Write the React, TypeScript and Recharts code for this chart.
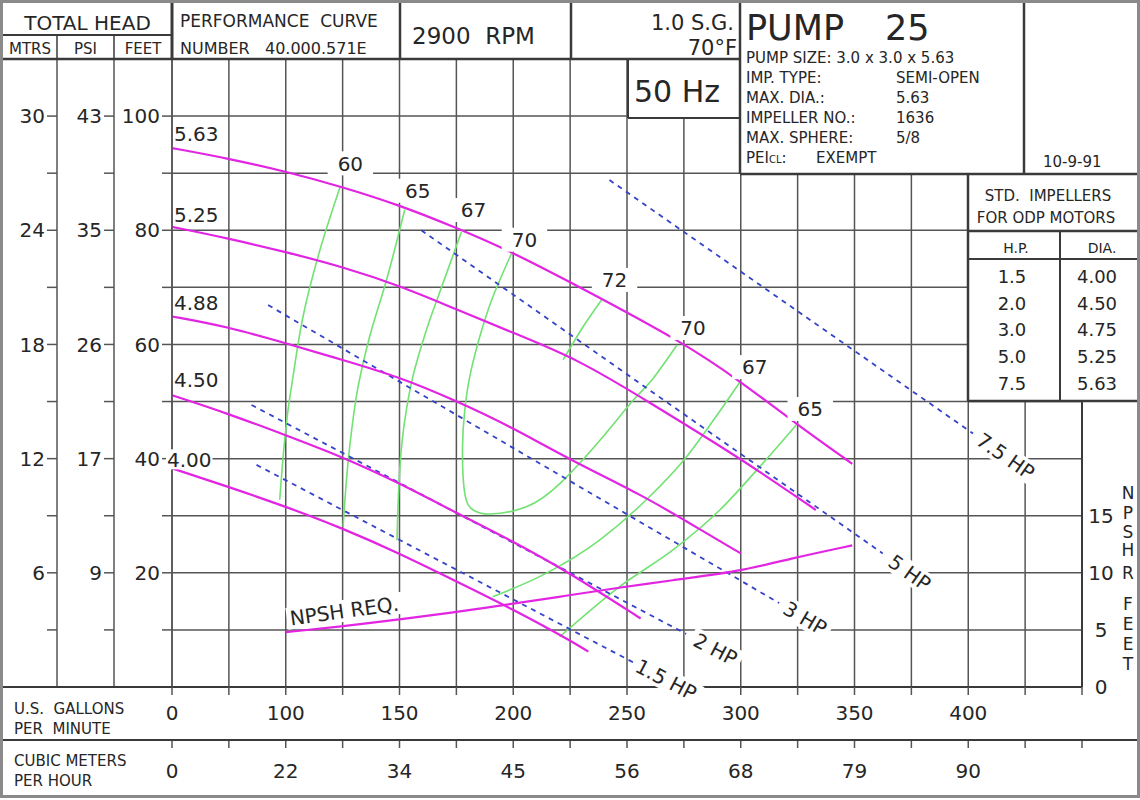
import React from 'react';
import { CartesianGrid, ComposedChart, Line, XAxis, YAxis } from 'recharts';

type Pt = [number, number];

// The sheet squeezes 0-100 GPM into one grid step; every other step is 25 GPM.
const gpmToAxis = (gpm: number) => (gpm < 100 ? 50 + gpm / 2 : gpm);

const GPM_GRID = [50, 75, 100, 125, 150, 175, 200, 225, 250, 275, 300, 325, 350, 375, 400, 425, 450];
const GPM_TICK_AT = [50, 100, 150, 200, 250, 300, 350, 400];
const GPM_TICK_TEXT = ['0', '100', '150', '200', '250', '300', '350', '400'];
const CMH_TICK_TEXT = ['0', '22', '34', '45', '56', '68', '79', '90'];

const HEAD_GRID = [0, 10, 20, 30, 40, 50, 60, 70, 80, 90, 100, 110];
const FEET_TICKS = [20, 40, 60, 80, 100];
const FEET_TICK_TEXT = ['20', '40', '60', '80', '100'];
const PSI_TICK_TEXT = ['9', '17', '26', '35', '43'];
const MTRS_TICK_TEXT = ['6', '12', '18', '24', '30'];
const NPSH_TICKS = [0, 5, 10, 15];

// head (ft) vs flow (GPM) per impeller diameter
const IMP_563: Pt[] = [[0, 94.4], [49, 92.6], [100, 90.3], [124, 87.7], [150, 84.4], [174, 80.6], [199, 76.3], [229, 70.1], [275, 60.3], [300, 53.5], [324, 46.2], [349, 39.1]];
const IMP_525: Pt[] = [[0, 80.6], [49, 78.6], [100, 76.2], [125, 73.6], [150, 70.3], [174, 66.3], [199, 62.2], [229, 57.3], [258, 50.3], [299, 40.3], [333, 31.0]];
const IMP_488: Pt[] = [[0, 64.9], [49, 63.1], [100, 60.2], [125, 57.3], [150, 54.3], [174, 50.3], [199, 45.6], [224, 40.0], [258, 33.3], [274, 29.5], [300, 23.4]];
const IMP_450: Pt[] = [[0, 51.1], [49, 47.9], [100, 44.1], [125, 40.3], [150, 35.7], [174, 30.7], [199, 25.7], [224, 20.2], [256, 12.0]];
const IMP_400: Pt[] = [[0, 38.3], [49, 35.1], [100, 31.6], [125, 27.8], [150, 23.4], [174, 18.7], [199, 13.8], [224, 8.4], [233, 6.2]];

// iso-efficiency lines, listed from the top end down
const EFF_60: Pt[] = [[124, 87.7], [115, 76.5], [107.6, 64.9], [103.2, 54.4], [101, 48.5], [99.1, 43.3], [94.7, 32.8]];
const EFF_65L: Pt[] = [[152.3, 83.6], [144.3, 71.3], [136.9, 61.4], [131.8, 52.6], [128.1, 42.1], [125.2, 28.1]];
const EFF_67L: Pt[] = [[177.2, 79.7], [169.1, 70.7], [161.8, 62.5], [155.9, 54.4], [153.0, 48.5], [150.9, 42.1], [148.9, 25.7]];
const EFF_70: Pt[] = [[199.2, 75.9], [191.1, 68.4], [185.3, 61.4], [180.9, 54.4], [178.7, 48.5], [177.7, 42.1], [178.7, 33.9], [182.4, 31.0], [189.9, 30.3], [206.0, 31.6], [220.7, 35.7], [238.3, 43.3], [252.9, 50.3], [261.0, 53.8], [272.0, 59.9]];
const EFF_72: Pt[] = [[238.8, 67.8], [230.7, 63.1], [221.9, 57.3]];
const EFF_67R: Pt[] = [[299.6, 53.4], [288.1, 46.8], [276.1, 40.3], [258.5, 32.8], [237.8, 25.7], [214.4, 19.9], [190.9, 15.8]];
const EFF_65R: Pt[] = [[324.4, 45.9], [308.4, 38.6], [290.8, 31.0], [270.2, 24.0], [246.8, 17.6], [220.4, 8.8]];

// motor horsepower lines
const HP_75: Pt[] = [[242.3, 88.8], [402.1, 44.4]];
const HP_5: Pt[] = [[159.6, 80.0], [362.4, 23.4]];
const HP_3: Pt[] = [[84.5, 66.9], [316.9, 14.7]];
const HP_2: Pt[] = [[69.9, 49.4], [276.0, 9.3]];
const HP_15: Pt[] = [[74.3, 38.9], [253.3, 4.2]];

// NPSH required (ft, right axis)
const NPSH_REQ: Pt[] = [[100, 4.8], [124, 5.3], [150, 5.9], [191, 7.0], [220, 7.9], [250, 8.8], [268, 9.3], [299, 10.1], [323, 11.3], [349, 12.4]];

const PUMP_INFO = [
  ['IMP. TYPE:', 'SEMI-OPEN'],
  ['MAX. DIA.:', '5.63'],
  ['IMPELLER NO.:', '1636'],
  ['MAX. SPHERE:', '5/8'],
];
const STD_HP = ['1.5', '2.0', '3.0', '5.0', '7.5'];
const STD_DIA = ['4.00', '4.50', '4.75', '5.25', '5.63'];

const FONT = '"DejaVu Sans", Verdana, sans-serif';
const INK = '#262626';
const GRID = '#555';
const FRAME = '#3a3a3a';
const MAGENTA = '#e225e2';
const GREEN = '#72e272';
const BLUE = '#3443c8';

const toRows = (pts: Pt[]) => pts.map(([g, v]) => ({ x: gpmToAxis(g), y: v }));

type LabelSpec = {
  text: string;
  at: 'start' | 'end';
  dx: number;
  dy: number;
  angle?: number;
  anchor?: 'start' | 'middle';
  padX?: number;
  padY?: number;
  size?: number;
};

const charW = (c: string) => ('.,: '.includes(c) ? 0.32 : /[0-9]/.test(c) ? 0.636 : /[A-Z]/.test(c) ? 0.7 : 0.6);
const textWidth = (t: string, size: number) => t.split('').reduce((s, c) => s + charW(c), 0) * size;

function BoxedText({ x, y, spec }: { x: number; y: number; spec: LabelSpec }) {
  const size = spec.size ?? 20;
  const anchor = spec.anchor ?? 'middle';
  const w = textWidth(spec.text, size);
  const left = anchor === 'middle' ? -w / 2 : 0;
  const padX = spec.padX ?? 3;
  const padY = spec.padY ?? 1;
  return (
    <g transform={`translate(${x},${y}) rotate(${spec.angle ?? 0}) translate(${spec.dx},${spec.dy})`}>
      <rect x={left - padX} y={-size * 0.5 - padY} width={w + 2 * padX} height={size + 2 * padY} fill="#fff" />
      <text x={0} y={0} dy="0.36em" textAnchor={anchor} fontSize={size} fill={INK} style={{ whiteSpace: 'pre' }}>
        {spec.text}
      </text>
    </g>
  );
}

const labelDots = (specs: LabelSpec[], count: number) => (p: any) => {
  const spec = specs.find((s) => (s.at === 'start' ? 0 : count - 1) === p.index);
  if (!spec) return <g key={`d${p.index}`} />;
  return <BoxedText key={`d${p.index}`} x={p.cx} y={p.cy} spec={spec} />;
};

type Series = { key: string; pts: Pt[]; curve: any; labels: LabelSpec[] };

const effLabel = (text: string, at: 'start' | 'end', dx: number, dy: number): LabelSpec => ({
  text,
  at,
  dx,
  dy,
  padX: 10,
  padY: 2,
});

const EFF_SERIES: Series[] = [
  { key: 'e60', pts: EFF_60, curve: 'monotoneY', labels: [effLabel('60', 'start', 10, -23)] },
  { key: 'e65l', pts: EFF_65L, curve: 'monotoneY', labels: [effLabel('65', 'start', 13, -19)] },
  { key: 'e67l', pts: EFF_67L, curve: 'monotoneY', labels: [effLabel('67', 'start', 12, -22)] },
  { key: 'e70', pts: EFF_70, curve: 'natural', labels: [effLabel('70', 'start', 13, -14), effLabel('70', 'end', 16, -17)] },
  { key: 'e72', pts: EFF_72, curve: 'monotone', labels: [effLabel('72', 'start', 13, -20)] },
  { key: 'e67r', pts: EFF_67R, curve: 'monotone', labels: [effLabel('67', 'start', 15, -15)] },
  { key: 'e65r', pts: EFF_65R, curve: 'monotone', labels: [effLabel('65', 'start', 14, -16)] },
];

const hpLabel = (text: string, angle: number, gap: number): LabelSpec => ({
  text,
  at: 'end',
  dx: gap,
  dy: 0,
  angle,
  anchor: 'start',
  padX: 4,
});

const HP_SERIES: Series[] = [
  { key: 'hp75', pts: HP_75, curve: 'linear', labels: [hpLabel('7.5 HP', 34.9, 7)] },
  { key: 'hp5', pts: HP_5, curve: 'linear', labels: [hpLabel('5 HP', 35.6, 10)] },
  { key: 'hp3', pts: HP_3, curve: 'linear', labels: [hpLabel('3 HP', 30.3, 7)] },
  { key: 'hp2', pts: HP_2, curve: 'linear', labels: [hpLabel('2 HP', 27.7, 10)] },
  { key: 'hp15', pts: HP_15, curve: 'linear', labels: [hpLabel('1.5 HP', 27.6, 3)] },
];

const headLabel = (text: string, dx: number, dy: number): LabelSpec => ({
  text,
  at: 'start',
  dx,
  dy,
  anchor: 'start',
  padX: 1,
  padY: 0,
});

const HEAD_SERIES: Series[] = [
  { key: 'i563', pts: IMP_563, curve: 'basis', labels: [headLabel('5.63', 2, -14.5)] },
  { key: 'i525', pts: IMP_525, curve: 'basis', labels: [headLabel('5.25', 2, -12.2)] },
  { key: 'i488', pts: IMP_488, curve: 'basis', labels: [headLabel('4.88', 2, -13.9)] },
  { key: 'i450', pts: IMP_450, curve: 'basis', labels: [headLabel('4.50', 2, -15.5)] },
  { key: 'i400', pts: IMP_400, curve: 'basis', labels: [headLabel('4.00', -5, -9)] },
];

const NPSH_LABEL: LabelSpec[] = [{ text: 'NPSH REQ.', at: 'start', dx: 6, dy: -13, angle: -8, anchor: 'start', padX: 3, padY: 1 }];

const gpmTick = (texts: string[]) => (p: any) => {
  const i = GPM_TICK_AT.indexOf(p.payload.value);
  if (i < 0) return <g />;
  return (
    <text x={p.x} y={p.y} dy="0.71em" textAnchor="middle" fontSize={20} fill={INK}>
      {texts[i]}
    </text>
  );
};

const headTick = (texts: string[]) => (p: any) => {
  const i = FEET_TICKS.indexOf(p.payload.value);
  if (i < 0) return <g />;
  return (
    <text x={p.x} y={p.y} dy="0.36em" textAnchor="end" fontSize={20} fill={INK}>
      {texts[i]}
    </text>
  );
};

const npshTick = (p: any) => (
  <text x={p.x + 19} y={p.y} dy="0.36em" textAnchor="middle" fontSize={20} fill={INK}>
    {p.payload.value}
  </text>
);

const axisLine = { stroke: GRID, strokeWidth: 1.5 };

function Overlay() {
  const line = (x1: number, y1: number, x2: number, y2: number, w = 2.5) => (
    <line x1={x1} y1={y1} x2={x2} y2={y2} stroke={FRAME} strokeWidth={w} />
  );
  return (
    <svg
      width={1140}
      height={800}
      style={{ position: 'absolute', left: 0, top: 0, pointerEvents: 'none' }}
      fontFamily={FONT}
      fill={INK}
    >
      {/* header cells */}
      <rect x={3} y={3} width={737} height={56} fill="#fff" />
      <rect x={628} y={59} width={112} height={59} fill="#fff" />
      <rect x={740} y={3} width={398} height={171} fill="#fff" />
      <rect x={968} y={174} width={170} height={227} fill="#fff" />
      {line(3, 35, 172, 35, 2)}
      {line(57, 35, 57, 59, 1.5)}
      {line(114, 35, 114, 59, 1.5)}
      {line(172, 3, 172, 59, 3)}
      {line(400, 3, 400, 59)}
      {line(571, 3, 571, 59)}
      {line(3, 59, 740, 59)}
      {line(628, 59, 628, 118, 2)}
      {line(628, 118, 740, 118, 2)}
      {line(740, 3, 740, 174)}
      {line(1024, 3, 1024, 174)}
      {line(740, 174, 1138, 174)}
      {line(968, 174, 968, 401)}
      {line(968, 231, 1138, 231)}
      {line(968, 259, 1138, 259, 2)}
      {line(1060, 231, 1060, 401, 2)}
      {line(968, 401, 1138, 401)}
      {/* bottom rows */}
      {line(3, 687, 172, 687, 2)}
      {line(3, 740, 1138, 740, 2)}
      <rect x={1.5} y={1.5} width={1137} height={795} fill="none" stroke="#8a8a8a" strokeWidth={3} />

      <text x={87.5} y={30} textAnchor="middle" fontSize={20}>TOTAL HEAD</text>
      <text x={30} y={54} textAnchor="middle" fontSize={15}>MTRS</text>
      <text x={85.5} y={54} textAnchor="middle" fontSize={15}>PSI</text>
      <text x={143} y={54} textAnchor="middle" fontSize={15}>FEET</text>
      <text x={180} y={27} fontSize={17} style={{ whiteSpace: 'pre' }}>PERFORMANCE  CURVE</text>
      <text x={180} y={54} fontSize={16} style={{ whiteSpace: 'pre' }}>NUMBER   40.000.571E</text>
      <text x={412} y={44} fontSize={23} style={{ whiteSpace: 'pre' }}>2900  RPM</text>
      <text x={734} y={30} textAnchor="end" fontSize={21}>1.0 S.G.</text>
      <text x={737} y={55} textAnchor="end" fontSize={21}>70°F</text>
      <text x={634} y={102} fontSize={30}>50 Hz</text>

      <text x={746} y={40} fontSize={35}>PUMP</text>
      <text x={885} y={40} fontSize={35}>25</text>
      <text x={746} y={63} fontSize={15}>PUMP SIZE: 3.0 x 3.0 x 5.63</text>
      {PUMP_INFO.map(([k, v], i) => (
        <g key={k}>
          <text x={746} y={83 + i * 20} fontSize={15}>{k}</text>
          <text x={896} y={83 + i * 20} fontSize={15}>{v}</text>
        </g>
      ))}
      <text x={746} y={163} fontSize={15}>
        PEI<tspan fontSize={10}>CL</tspan>:
      </text>
      <text x={816} y={163} fontSize={15}>EXEMPT</text>
      <text x={1043} y={167} fontSize={15}>10-9-91</text>

      <text x={1048} y={201} textAnchor="middle" fontSize={15} style={{ whiteSpace: 'pre' }}>STD.  IMPELLERS</text>
      <text x={1046} y={223} textAnchor="middle" fontSize={15}>FOR ODP MOTORS</text>
      <text x={1016} y={253} textAnchor="middle" fontSize={14}>H.P.</text>
      <text x={1102} y={253} textAnchor="middle" fontSize={14}>DIA.</text>
      {STD_HP.map((hp, i) => (
        <g key={hp}>
          <text x={1012} y={283 + i * 26.7} textAnchor="middle" fontSize={18}>{hp}</text>
          <text x={1097} y={283 + i * 26.7} textAnchor="middle" fontSize={18}>{STD_DIA[i]}</text>
        </g>
      ))}

      <text x={14} y={714} fontSize={15} style={{ whiteSpace: 'pre' }}>U.S.  GALLONS</text>
      <text x={14} y={734} fontSize={15} style={{ whiteSpace: 'pre' }}>PER  MINUTE</text>
      <text x={14} y={766} fontSize={15}>CUBIC METERS</text>
      <text x={14} y={786} fontSize={15}>PER HOUR</text>

      {'NPSHR'.split('').map((c, i) => (
        <text key={`n${i}`} x={1128} y={[499, 519, 538, 556, 579][i]} textAnchor="middle" fontSize={17}>{c}</text>
      ))}
      {'FEET'.split('').map((c, i) => (
        <text key={`f${i}`} x={1128} y={610 + i * 20} textAnchor="middle" fontSize={17}>{c}</text>
      ))}
    </svg>
  );
}

function renderSeries(list: Series[], color: string, width: number, dash?: string) {
  return list.map((s) => (
    <Line
      key={s.key}
      data={toRows(s.pts)}
      dataKey="y"
      xAxisId="x1gpm"
      yAxisId="y1feet"
      type={s.curve}
      stroke={color}
      strokeWidth={width}
      strokeDasharray={dash}
      dot={labelDots(s.labels, s.pts.length)}
      activeDot={false}
      isAnimationActive={false}
    />
  ));
}

export default function App() {
  return (
    <div style={{ position: 'relative', width: 1140, height: 800, background: '#fff', fontFamily: FONT }}>
      <style>{'body{margin:0}'}</style>
      <ComposedChart width={1140} height={800} margin={{ top: 59, right: 0, bottom: 5, left: 3 }}>
        <CartesianGrid xAxisId="x1gpm" yAxisId="y1feet" stroke={GRID} strokeWidth={1.5} />
        <XAxis
          xAxisId="x1gpm"
          type="number"
          dataKey="x"
          domain={[50, 450]}
          ticks={GPM_GRID}
          interval={0}
          height={53}
          tickSize={8}
          tickMargin={11}
          axisLine={{ stroke: FRAME, strokeWidth: 2 }}
          tickLine={axisLine}
          tick={gpmTick(GPM_TICK_TEXT)}
        />
        <XAxis
          xAxisId="x2cmh"
          type="number"
          dataKey="x"
          domain={[50, 450]}
          allowDataOverflow
          ticks={GPM_GRID}
          interval={0}
          height={55}
          tickSize={8}
          tickMargin={16}
          axisLine={{ stroke: FRAME, strokeWidth: 2 }}
          tickLine={axisLine}
          tick={gpmTick(CMH_TICK_TEXT)}
        />
        <YAxis
          yAxisId="y1feet"
          type="number"
          domain={[0, 110]}
          ticks={HEAD_GRID}
          interval={0}
          width={58}
          tickSize={10}
          tickMargin={2}
          axisLine={axisLine}
          tickLine={axisLine}
          tick={headTick(FEET_TICK_TEXT)}
        />
        <YAxis
          yAxisId="y2psi"
          type="number"
          domain={[0, 110]}
          allowDataOverflow
          ticks={HEAD_GRID}
          interval={0}
          width={57}
          tickSize={10}
          tickMargin={2}
          axisLine={axisLine}
          tickLine={axisLine}
          tick={headTick(PSI_TICK_TEXT)}
        />
        <YAxis
          yAxisId="y3mtrs"
          type="number"
          domain={[0, 110]}
          allowDataOverflow
          ticks={HEAD_GRID}
          interval={0}
          width={54}
          tickSize={10}
          tickMargin={2}
          axisLine={axisLine}
          tickLine={axisLine}
          tick={headTick(MTRS_TICK_TEXT)}
        />
        <YAxis
          yAxisId="y4npsh"
          orientation="right"
          type="number"
          domain={[0, 55]}
          ticks={NPSH_TICKS}
          interval={0}
          width={58}
          tickSize={0}
          tickMargin={0}
          axisLine={{ stroke: FRAME, strokeWidth: 2 }}
          tickLine={false}
          tick={npshTick}
        />
        {renderSeries(EFF_SERIES, GREEN, 1.6)}
        {renderSeries(HP_SERIES, BLUE, 1.8, '5 5')}
        {renderSeries(HEAD_SERIES, MAGENTA, 2.2)}
        <Line
          data={toRows(NPSH_REQ)}
          dataKey="y"
          xAxisId="x1gpm"
          yAxisId="y4npsh"
          type="basis"
          stroke={MAGENTA}
          strokeWidth={2.2}
          dot={labelDots(NPSH_LABEL, NPSH_REQ.length)}
          activeDot={false}
          isAnimationActive={false}
        />
      </ComposedChart>
      <Overlay />
    </div>
  );
}
